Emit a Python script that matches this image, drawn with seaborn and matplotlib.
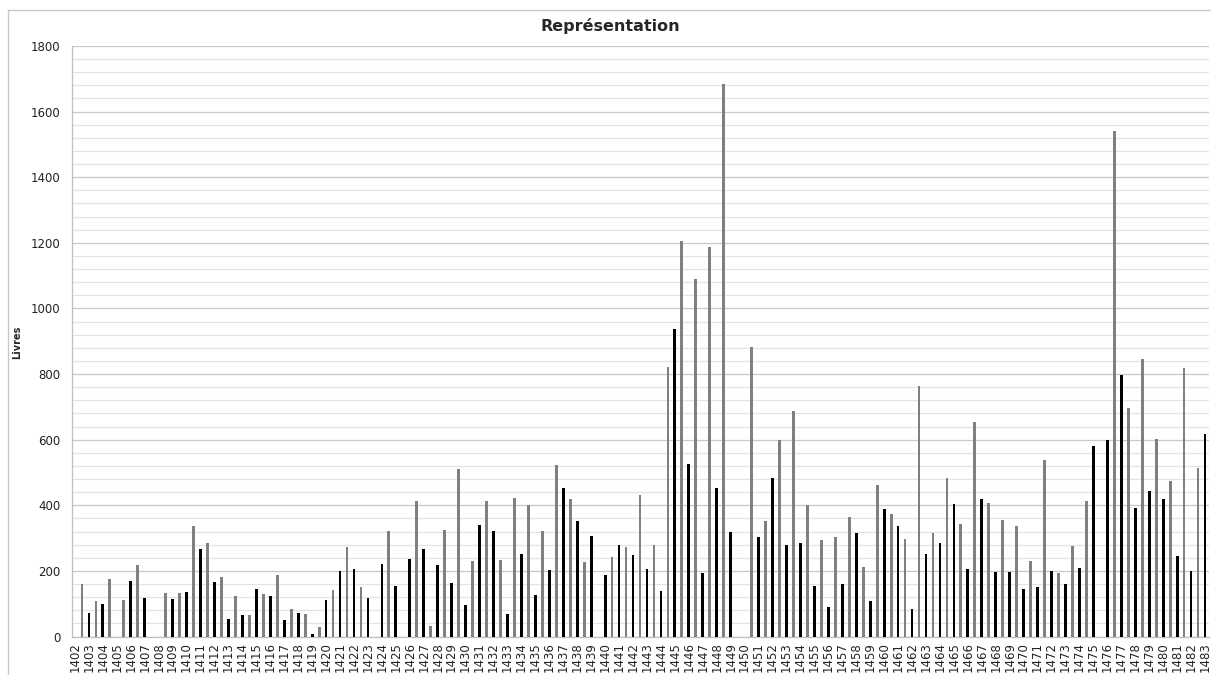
import numpy as np
import pandas as pd
import seaborn as sns
import matplotlib.pyplot as plt
from matplotlib.patches import Rectangle

# Années (une étiquette tous les deux emplacements)
years = list(range(1402, 1484))

# Barres grises : années 1403 à 1483
gray_vals = [160, 109, 175, 112, 218, 0, 132, 134, 338, 285,
             183, 123, 65, 129, 188, 84, 70, 28, 141, 273,
             150, 0, 322, 0, 412, 32, 325, 511, 230, 412,
             234, 421, 401, 321, 523, 420, 226, 0, 243, 272,
             433, 278, 822, 1206, 1090, 1186, 1683, 0, 884, 352,
             600, 689, 400, 295, 303, 365, 213, 461, 375, 298,
             764, 315, 482, 344, 653, 407, 356, 336, 230, 537,
             193, 277, 414, 0, 1541, 697, 846, 601, 474, 819,
             513]

# Barres noires : années 1402 à 1483
black_vals = [0, 71, 98, 0, 168, 117, 0, 115, 136, 267,
              166, 54, 65, 144, 124, 50, 71, 7, 111, 199,
              206, 117, 220, 155, 238, 266, 218, 164, 95, 339,
              323, 69, 252, 126, 202, 453, 352, 306, 189, 278,
              250, 206, 139, 939, 526, 194, 452, 318, 0, 305,
              482, 280, 284, 155, 91, 159, 316, 109, 390, 336,
              84, 252, 286, 404, 206, 420, 198, 198, 144, 150,
              201, 161, 210, 582, 600, 797, 393, 445, 419, 246,
              200, 618]

# Tableau long : gris avant l'étiquette de l'année, noir sur l'étiquette
rows = []
for i, y in enumerate(years):
    rows.append({'pos': 2 * i, 'val': black_vals[i], 'serie': 'noir'})
for j, v in enumerate(gray_vals):
    rows.append({'pos': 2 * j + 1, 'val': v, 'serie': 'gris'})
df = pd.DataFrame(rows).sort_values('pos')

sns.set_style('white')
plt.rcParams['font.family'] = ['DejaVu Sans']

fig, ax = plt.subplots(figsize=(12.11, 6.75), dpi=100)
fig.subplots_adjust(left=71.5 / 1211, right=1208.5 / 1211,
                    top=1 - 46 / 675, bottom=1 - 636.6 / 675)

sns.barplot(data=df, x='pos', y='val', hue='serie',
            palette={'gris': '#808080', 'noir': '#000000'},
            native_scale=True, dodge=False, width=0.4,
            linewidth=0, legend=False, ax=ax, zorder=3)

# Axes
ax.set_xlim(-0.5, 2 * len(years) - 1.5)
ax.set_ylim(0, 1800)
ax.set_yticks(np.arange(0, 1801, 200))
ax.set_yticks(np.arange(0, 1801, 40), minor=True)
ax.set_xticks(np.arange(0, 2 * len(years), 2))
ax.set_xticklabels([str(y) for y in years], rotation=90)
ax.set_xticks(np.arange(-0.5, 2 * len(years) - 1, 1), minor=True)

ax.grid(axis='y', which='major', color='#c8c8c8', linewidth=0.9, zorder=0)
ax.grid(axis='y', which='minor', color='#e4e4e4', linewidth=0.9, zorder=0)
ax.grid(axis='x', which='both', visible=False)
ax.set_axisbelow(True)

ax.tick_params(axis='x', which='major', length=0, pad=4,
               labelsize=8.5, labelcolor='#222222')
ax.tick_params(axis='x', which='minor', length=4, color='#bfbfbf', width=0.8)
ax.tick_params(axis='y', which='major', length=4, color='#bfbfbf', width=0.8,
               labelsize=8.5, labelcolor='#222222', pad=4)
ax.tick_params(axis='y', which='minor', length=0)

for side in ['top', 'right']:
    ax.spines[side].set_visible(False)
for side in ['left', 'bottom']:
    ax.spines[side].set_color('#bfbfbf')
    ax.spines[side].set_linewidth(0.9)

ax.set_xlabel('')
ax.set_ylabel('Livres', fontsize=7, fontweight='bold')
ax.yaxis.set_label_coords((22 - 71.5) / 1137, 1 - (342 - 46) / 590.6)

fig.text(610 / 1211, 1 - 26 / 675, 'Représentation', fontsize=11.5,
         fontweight='bold', ha='center', va='center')

# Cadre extérieur du graphique
fig.patches.append(Rectangle((8 / 1211, -0.05), 1.2, 1 - 10 / 675 + 0.05,
                             transform=fig.transFigure, fill=False,
                             edgecolor='#c8c8c8', linewidth=1.0))

fig.savefig('out.png', dpi=100)
